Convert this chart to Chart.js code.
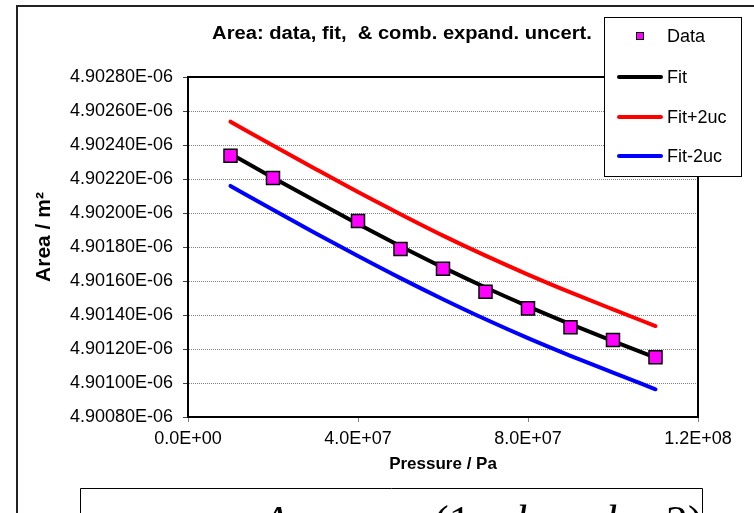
<!DOCTYPE html>
<html>
<head>
<meta charset="utf-8">
<script src="https://cdn.jsdelivr.net/npm/chart.js@4.4.0/dist/chart.umd.min.js"></script>
<style>
  html, body { margin: 0; padding: 0; background: #fff; }
</style>
</head>
<body>
<canvas id="areachart" width="754" height="513"></canvas>
<script>
// Area vs pressure
// area values are in units of 1E-06 m^2
var pressure = [1e7, 2e7, 4e7, 5e7, 6e7, 7e7, 8e7, 9e7, 1e8, 1.1e8];
var areaData = [4.902337, 4.902206, 4.901953, 4.901788, 4.901672, 4.901537, 4.901439, 4.901328, 4.901253, 4.901151];

var fitPressure = [1e7, 2e7, 3e7, 4e7, 5e7, 6e7, 7e7, 8e7, 9e7, 1e8, 1.1e8];
var fit      = [4.902348, 4.902208, 4.902070, 4.901935, 4.901805, 4.901680, 4.901562, 4.901451, 4.901346, 4.901246, 4.901149];
var fitPlus  = [4.902537, 4.902397, 4.902259, 4.902123, 4.901993, 4.901867, 4.901749, 4.901638, 4.901533, 4.901433, 4.901335];
var fitMinus = [4.902159, 4.902019, 4.901881, 4.901747, 4.901617, 4.901493, 4.901375, 4.901264, 4.901160, 4.901061, 4.900963];

var xTicks = [0, 4e7, 8e7, 1.2e8];
var yTicks = [4.9008, 4.9010, 4.9012, 4.9014, 4.9016, 4.9018, 4.9020, 4.9022, 4.9024, 4.9026, 4.9028];

var FONT = '"Liberation Sans", Arial, sans-serif';
Chart.defaults.font.family = FONT;
Chart.defaults.color = '#000';

function sci(v, d) {
  var parts = v.toExponential(d).split('e');
  var n = parseInt(parts[1], 10);
  return parts[0] + 'E' + (n < 0 ? '-' : '+') + String(Math.abs(n)).padStart(2, '0');
}

function pts(xs, ys) {
  return xs.map(function (x, i) { return {x: x, y: ys[i]}; });
}

// page furniture: outer frame, plot box, titles, legend, formula box
var decor = {
  id: 'decor',
  beforeDraw: function (chart) {
    var c = chart.ctx;
    c.save();
    c.fillStyle = '#fff';
    c.fillRect(0, 0, chart.width, chart.height);
    c.strokeStyle = '#222';
    c.lineWidth = 2;
    c.beginPath();
    c.moveTo(17, chart.height);
    c.lineTo(17, 6);
    c.lineTo(chart.width, 6);
    c.stroke();
    c.restore();
  },
  afterDraw: function (chart) {
    var c = chart.ctx, a = chart.chartArea;
    c.save();
    // plot frame
    c.strokeStyle = '#000';
    c.lineWidth = 2;
    c.strokeRect(a.left, a.top, a.right - a.left, a.bottom - a.top);

    // chart title, a bit wider than the font (stretched like the original)
    c.fillStyle = '#000';
    c.textAlign = 'center';
    c.textBaseline = 'middle';
    c.save();
    c.translate(402, 34);
    c.scale(1.12, 1);
    c.font = 'bold 18px ' + FONT;
    c.fillText('Area: data, fit,  & comb. expand. uncert.', 0, 0);
    c.restore();

    // y axis title
    c.save();
    c.translate(44, 237);
    c.rotate(-Math.PI / 2);
    c.font = 'bold 21px ' + FONT;
    c.fillText('Area / m²', 0, 0);
    c.restore();

    // legend box
    var lx = 604, ly = 17, lw = 137, lh = 159;
    c.fillStyle = '#fff';
    c.fillRect(lx, ly, lw, lh);
    c.strokeStyle = '#000';
    c.lineWidth = 1;
    c.strokeRect(lx + 0.5, ly + 0.5, lw, lh);
    var rows = [36, 77, 117, 156];
    c.font = '18px ' + FONT;
    c.textAlign = 'left';
    chart.data.datasets.forEach(function (ds, i) {
      var y = rows[i];
      if (ds.showLine === false) {
        c.fillStyle = ds.pointBackgroundColor;
        c.fillRect(636, y - 4, 8, 8);
        c.strokeStyle = '#000';
        c.lineWidth = 1;
        c.strokeRect(636.5, y - 3.5, 7, 7);
      } else {
        c.strokeStyle = ds.borderColor;
        c.lineWidth = 4;
        c.lineCap = 'round';
        c.beginPath();
        c.moveTo(619, y);
        c.lineTo(661, y);
        c.stroke();
      }
      c.fillStyle = '#000';
      c.fillText(ds.label, 667, y + 1);
    });

    // formula box, cut off by the bottom edge
    c.strokeStyle = '#000';
    c.lineWidth = 1;
    c.beginPath();
    c.moveTo(80.5, chart.height);
    c.lineTo(80.5, 488.5);
    c.lineTo(702.5, 488.5);
    c.lineTo(702.5, chart.height);
    c.stroke();
    var base = 536;
    var pieces = [
      ['A', 262, 'italic 44px'], ['=', 340, '44px'],
      ['(1', 434, '44px'], ['b', 516, 'italic 44px'],
      ['b', 606, 'italic 44px'], ['2)', 666, '44px']
    ];
    c.fillStyle = '#000';
    c.textBaseline = 'alphabetic';
    pieces.forEach(function (p) {
      c.font = p[2] + ' "Liberation Serif", "Times New Roman", serif';
      c.fillText(p[0], p[1], base);
    });
    c.restore();
  }
};

var ctx = document.getElementById('areachart').getContext('2d');
var myChart = new Chart(ctx, {
  type: 'scatter',
  data: {
    datasets: [{
      label: 'Data',
      data: pts(pressure, areaData),
      showLine: false,
      pointStyle: 'rect',
      pointRadius: 9.2,
      pointBackgroundColor: '#ff00ff',
      pointBorderColor: '#000',
      pointBorderWidth: 1.5,
      order: 0
    }, {
      label: 'Fit',
      data: pts(fitPressure, fit),
      showLine: true,
      borderColor: '#000',
      borderWidth: 4,
      borderCapStyle: 'round',
      pointRadius: 0,
      cubicInterpolationMode: 'monotone',
      order: 1
    }, {
      label: 'Fit+2uc',
      data: pts(fitPressure, fitPlus),
      showLine: true,
      borderColor: '#ff0000',
      borderWidth: 4,
      borderCapStyle: 'round',
      pointRadius: 0,
      cubicInterpolationMode: 'monotone',
      order: 2
    }, {
      label: 'Fit-2uc',
      data: pts(fitPressure, fitMinus),
      showLine: true,
      borderColor: '#0000ff',
      borderWidth: 4,
      borderCapStyle: 'round',
      pointRadius: 0,
      cubicInterpolationMode: 'monotone',
      order: 3
    }]
  },
  options: {
    responsive: false,
    animation: false,
    events: [],
    layout: { padding: { top: 77, right: 56, bottom: 0, left: 0 } },
    plugins: { legend: { display: false }, tooltip: { enabled: false }, title: { display: false } },
    scales: {
      x: {
        type: 'linear',
        min: 0,
        max: 1.2e8,
        afterBuildTicks: function (s) { s.ticks = xTicks.map(function (v) { return {value: v}; }); },
        afterFit: function (s) { s.height = 96; },
        ticks: {
          font: { size: 18 },
          padding: 6,
          maxRotation: 0,
          callback: function (v) { return sci(v, 1); }
        },
        grid: { drawOnChartArea: false, drawTicks: true, tickLength: 5, tickColor: '#808080' },
        border: { display: true, color: '#000', width: 2 },
        title: {
          display: true,
          text: 'Pressure / Pa',
          font: { size: 17, weight: 'bold' },
          padding: { top: 0, bottom: 38 }
        }
      },
      y: {
        type: 'linear',
        min: 4.9008,
        max: 4.9028,
        afterBuildTicks: function (s) { s.ticks = yTicks.map(function (v) { return {value: v}; }); },
        afterFit: function (s) { s.width = 188; },
        ticks: {
          font: { size: 18 },
          padding: 10,
          callback: function (v) { return v.toFixed(5) + 'E-06'; }
        },
        grid: { color: '#808080', lineWidth: 1, tickLength: 5, tickColor: '#404040' },
        border: { display: true, color: '#000', width: 2, dash: [1, 1] },
        title: { display: false }
      }
    }
  },
  plugins: [decor]
});
</script>
</body>
</html>
